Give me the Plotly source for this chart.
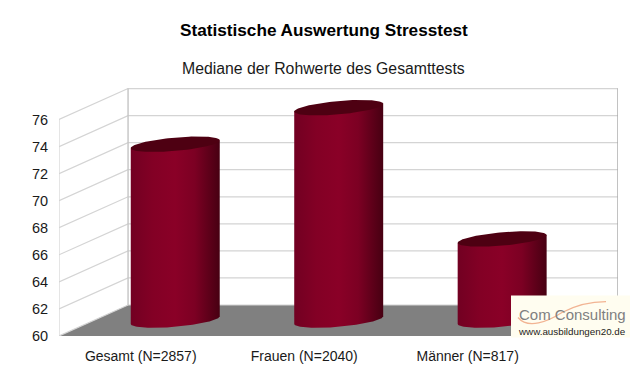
import numpy as np
import plotly.graph_objects as go

categories = ["Gesamt (N=2857)", "Frauen (N=2040)", "Männer (N=817)"]
values = [73, 75.7, 66]
y_ticks = [60, 62, 64, 66, 68, 70, 72, 74, 76]

# pseudo-3D projection, in axis units
DX = 0.4225      # depth offset along x
DY = 2.29        # depth offset along y
Y_TOP = 78.33
X_MIN, X_MAX = -0.5, 2.92
A_X = 38.5 / 163.3
D_X = 22.2 / 163.3
D_Y = 7.75 / 13.56

GRID = "#d4d4d4"
fig = go.Figure()


def line(xs, ys, color=GRID, width=1.2):
    fig.add_trace(go.Scatter(x=xs, y=ys, mode="lines", line=dict(color=color, width=width),
                             hoverinfo="skip", showlegend=False))


# floor
fig.add_trace(go.Scatter(x=[X_MIN, X_MIN + DX, X_MAX, X_MAX - DX, X_MIN],
                         y=[60, 60 + DY, 60 + DY, 60, 60], mode="lines", fill="toself",
                         fillcolor="#808080", line=dict(width=0), hoverinfo="skip", showlegend=False))
# walls
for v in y_ticks:
    line([X_MIN, X_MIN + DX, X_MAX], [v, v + DY, v + DY])
line([X_MIN, X_MIN], [60, 76])
line([X_MIN + DX, X_MIN + DX], [60 + DY, 76 + DY], "#c4c4c4", 1.4)
line([X_MAX, X_MAX], [60 + DY, 76 + DY], "#a8a8a8", 1.4)

# cylinders
t = np.linspace(0, 2 * np.pi, 121)
t0 = np.arctan2(D_X, A_X)
for i, v in enumerate(values):
    cx = i + DX / 2
    base = 60 + DY / 2 + 0.03
    top = v + DY / 2 + 0.03

    def ex(tt):
        return cx + A_X * np.cos(tt) + D_X * np.sin(tt)

    def ey(tt, c):
        return c + D_Y * np.sin(tt)

    lower = np.linspace(np.pi + t0, 2 * np.pi + t0, 60)
    xs = list(ex(lower)) + [ex(t0), ex(np.pi + t0), ex(np.pi + t0)]
    ys = list(ey(lower, base)) + [ey(t0, top), ey(np.pi + t0, top), ey(np.pi + t0, base)]
    fig.add_trace(go.Scatter(
        x=xs, y=ys, mode="lines", fill="toself", line=dict(width=0),
        fillgradient=dict(type="horizontal", colorscale=[
            [0, "#720022"], [0.25, "#830025"], [0.5, "#8a0027"],
            [0.72, "#7c0023"], [1, "#470012"]]),
        hoverinfo="skip", showlegend=False))
    fig.add_trace(go.Scatter(x=ex(t), y=ey(t, top), mode="lines", fill="toself",
                             fillcolor="#4e0012", line=dict(width=0),
                             hoverinfo="skip", showlegend=False))

# logo
LOGO_SHAPES = [
    dict(type="rect", xref="paper", yref="paper", x0=(511 - 59) / 559, x1=(630 - 59) / 559,
         y0=(336.5 - 338) / 248.5, y1=(336.5 - 296) / 248.5, fillcolor="#fffdf0",
         line=dict(width=0), layer="above"),
]
fig.update_layout(
    width=640, height=386, autosize=False, paper_bgcolor="white", plot_bgcolor="white",
    margin=dict(l=59, r=22, t=88, b=49.5), showlegend=False,
    font=dict(family="Liberation Sans, Arial, sans-serif", color="#1a1a1a"),
    xaxis=dict(range=[X_MIN, X_MAX], tickvals=[0, 1, 2], ticktext=categories, showgrid=False,
               zeroline=False, showline=False, ticks="outside", ticklen=7, tickcolor="rgba(0,0,0,0)",
               tickfont=dict(size=14)),
    yaxis=dict(range=[60, Y_TOP], tickvals=y_ticks, showgrid=False, zeroline=False, showline=False,
               ticks="outside", ticklen=7, tickcolor="rgba(0,0,0,0)", tickfont=dict(size=14.5)),
    shapes=LOGO_SHAPES,
)


def px(x):
    return (x - 59) / 559


def py(y):
    return (336.5 - y) / 248.5


def note(text, x, y, size, color="#1a1a1a", bold=False):
    fig.add_annotation(text=f"<b>{text}</b>" if bold else text, xref="paper", yref="paper",
                       x=px(x), y=py(y), showarrow=False, font=dict(size=size, color=color),
                       xanchor="center", yanchor="middle")


note("Statistische Auswertung Stresstest", 324, 30, 17.2, "#000000", True)
note("Mediane der Rohwerte des Gesamttests", 323, 68, 15.8)
note("Com Consulting", 572.5, 315, 15, "#808080")
note("www.ausbildungen20.de", 572, 332, 9.8, "#222222")
fig.add_shape(type="path", xref="paper", yref="paper", layer="above",
              path=f"M {px(518)} {py(318)} C {px(528)} {py(330)}, {px(548)} {py(322)}, {px(562)} {py(313)} "
                   f"C {px(575)} {py(306)}, {px(592)} {py(302)}, {px(606)} {py(302)}",
              line=dict(color="#f2b493", width=1.3))

fig.write_html("out.html", config={"displayModeBar": False},
               post_script="document.body.style.margin='0';document.body.style.overflow='hidden';")
